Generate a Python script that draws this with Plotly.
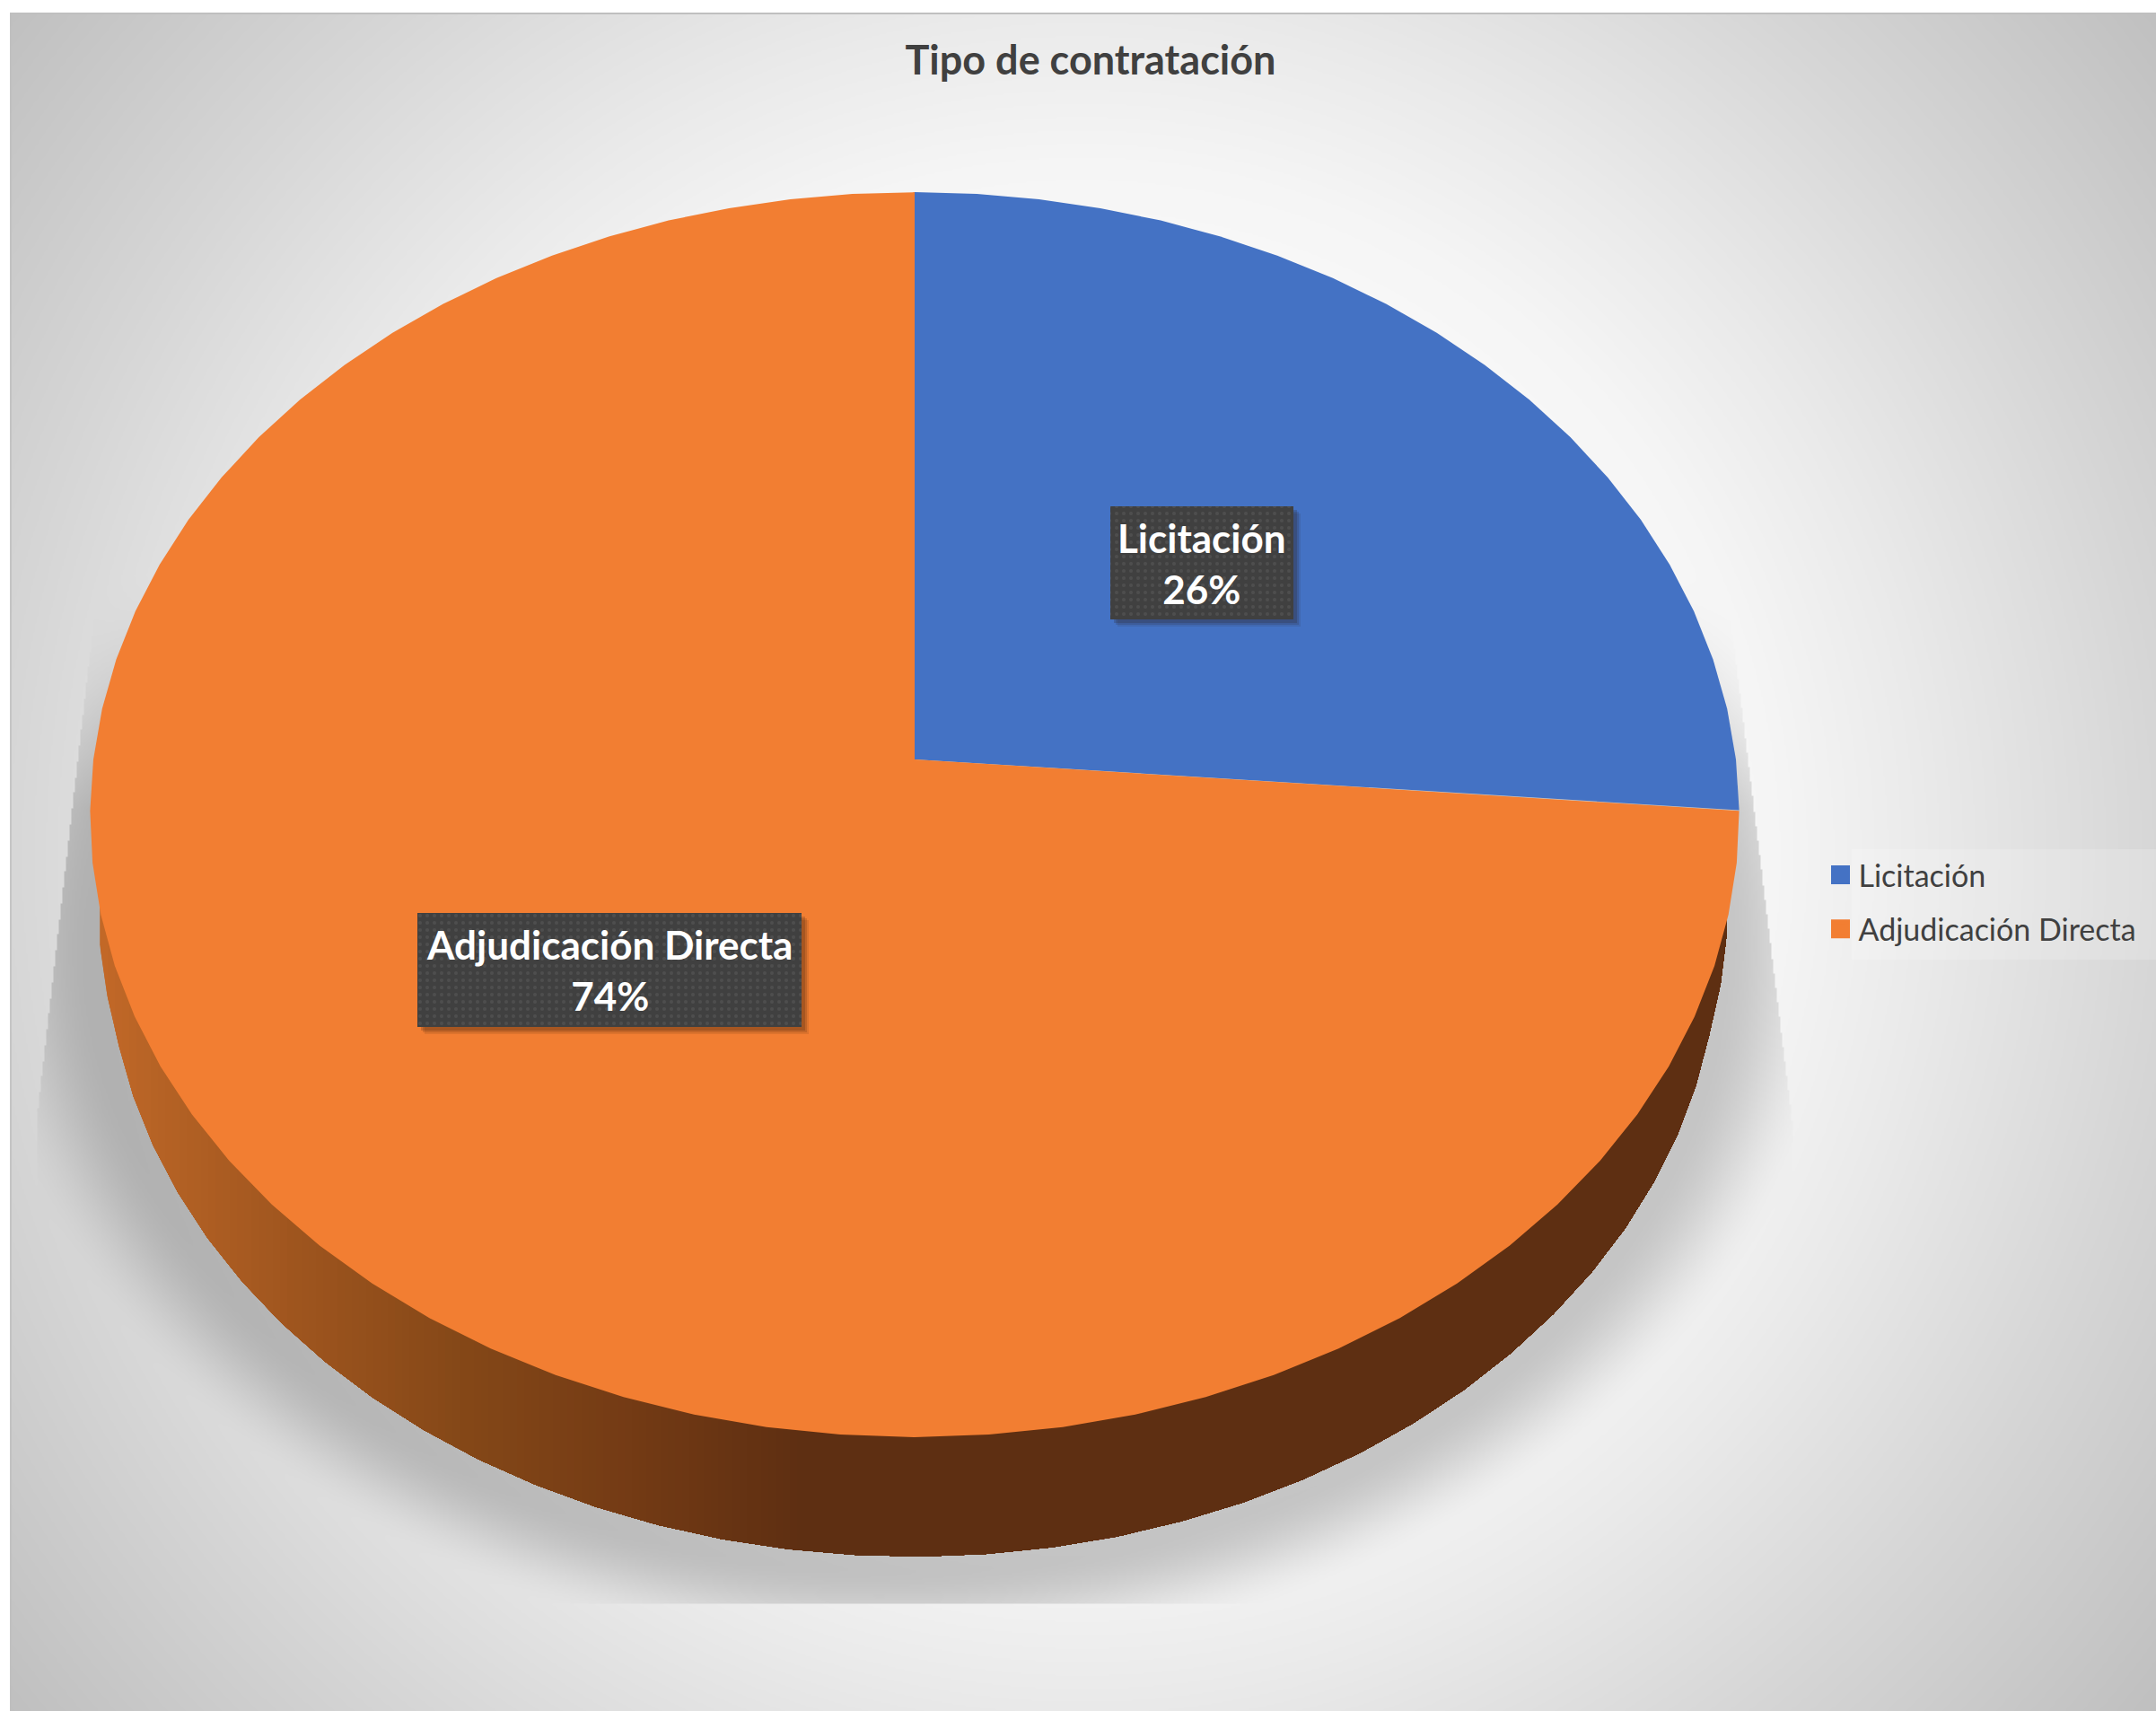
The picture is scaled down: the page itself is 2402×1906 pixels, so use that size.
import numpy as np
import plotly.graph_objects as go

# ---- data ----
categories = ["Licitación", "Adjudicación Directa"]
values = [26.3, 73.7]
colors = ["#4472C4", "#F27E32"]
title_text = "Tipo de contratación"

W, H = 2402, 1906
FONT = "Lato"
TXT = "#404040"

# perspective disc
CX, CY = 1019, 846
SX, SY, K = 915, 688, 0.0887
STEP = 360 / 76


def disc(deg):
    t = np.radians(np.asarray(deg, dtype=float))
    u, v = np.sin(t), np.cos(t)
    d = 1 + K * v
    return CX + SX * u / d, CY - SY * v / d


def arc_angles(a0, a1):
    inner = np.arange(np.ceil(a0 / STEP), np.floor(a1 / STEP) + 1) * STEP
    return np.unique(np.concatenate([[a0], inner, [a1]]))


# ---- background: radial grey + clipped soft shadow ----
xs = np.arange(12, W + 2, 2.0)
ys = np.arange(15, H + 2, 2.0)
gx, gy = np.meshgrid(xs, ys)
d = np.hypot(gx - 1205, gy - 953)
bg = np.interp(d, [0, 700, 770, 935, 1200, 1530], [252, 247, 245, 234, 214, 191])
rho = np.hypot((gx - 1012) / 975, (gy - 1046) / 755)
edge = np.clip((rho - 0.93) / 0.14, 0, 1)
alpha = 0.2 * (1 - edge * edge * (3 - 2 * edge))
alpha *= np.clip((gy - 640) / 260, 0, 1)
left = np.maximum(104 - (gy - 690) * 0.114, 42)
right = np.minimum(1928 + (gy - 690) * 0.122, 1996)
alpha[(gx < left) | (gx > right) | (gy > 1785)] = 0
bg = bg * (1 - alpha)

fig = go.Figure()
fig.add_trace(go.Heatmap(x=xs, y=ys, z=np.round(bg).astype(np.uint8), zmin=0, zmax=255,
                         colorscale=[[0, "black"], [1, "white"]], showscale=False,
                         zsmooth="best", hoverinfo="skip"))


def poly(x, y, color):
    fig.add_trace(go.Scatter(x=np.round(x, 1), y=np.round(y, 1), mode="lines", fill="toself",
                             fillcolor=color, line=dict(width=0), showlegend=False,
                             hoverinfo="skip"))


# ---- side wall: lower outline, painted left to right as a gradient ----
BCX, BCY, BA, BB = 1017, 1046, 898, 688
wall_deg = np.arange(80, 270 + STEP / 2, STEP)
wall_t = np.radians(wall_deg)
wy = BCY - BB * np.cos(wall_t)
wx = BCX + (BA + 12 * np.clip((1150 - wy) / 150, 0, 1)) * np.sin(wall_t)
grad_x = [105, 160, 319, 510, 700, 893]
grad_r = [196, 184, 160, 133, 116, 94]
grad_g = [105, 100, 86, 72, 59, 47]
grad_b = [40, 38, 31, 24, 21, 18]
left_part = wall_deg > 180
lx, ly = wx[left_part][::-1], wy[left_part][::-1]   # x rising along the lower-left arc
first = wx.min()
for x0 in np.r_[first, np.arange(112, 900, 8)]:
    keep = (wall_deg <= 180) | (wx >= x0)
    cross = np.interp(x0, lx, ly)
    # its closing edge runs behind the top face
    fx = np.r_[wx[keep], x0, x0]
    fy = np.r_[wy[keep], cross, wy[0]]
    c = "rgb(%d,%d,%d)" % (np.interp(x0, grad_x, grad_r), np.interp(x0, grad_x, grad_g),
                           np.interp(x0, grad_x, grad_b))
    poly(fx, fy, c)

# ---- top face of the pie, one polygon per category ----
total = sum(values)
start = 0.0
for name, val, col in zip(categories, values, colors):
    end = start + 360 * val / total
    px, py = disc(arc_angles(start, end))
    poly(np.r_[CX, px, CX], np.r_[CY, py, CY], col)
    start = end

# ---- data labels ----
label_boxes = [(1237, 1441, 564, 690), (465, 893, 1017, 1144)]
annos = []
for name, val, (x0, x1, y0, y1) in zip(categories, values, label_boxes):
    for off, a in ((8, 0.10), (6, 0.14), (4, 0.18)):
        poly([x0 + off, x1 + off, x1 + off, x0 + off, x0 + off],
             [y0 + off, y0 + off, y1 + off, y1 + off, y0 + off], "rgba(40,20,10,%.2f)" % a)
    fig.add_trace(go.Scatter(x=[x0, x1, x1, x0, x0], y=[y0, y0, y1, y1, y0], mode="lines", fill="toself",
                             line=dict(width=0), showlegend=False, hoverinfo="skip",
                             fillcolor="#404040",
                             fillpattern=dict(shape=".", bgcolor="#404040", fgcolor="#5C5C5C",
                                              size=8, solidity=0.2)))
    annos.append(dict(x=(x0 + x1) / 2, y=(y0 + y1) / 2, xref="x", yref="y", showarrow=False,
                      text=f"<b>{name}<br>{round(val)}%</b>",
                      font=dict(family=FONT, size=44, color="white"), align="center"))

# ---- legend entries ----
for name, col in zip(categories, colors):
    fig.add_trace(go.Scatter(x=[-500], y=[-500], mode="markers", name=name, legendgroup=name,
                             marker=dict(symbol="square", size=16, color=col, line=dict(width=5, color=col)),
                             hoverinfo="skip"))

fig.update_layout(
    width=W, height=H, margin=dict(l=0, r=0, t=0, b=0), paper_bgcolor="white", plot_bgcolor="white",
    xaxis=dict(range=[0, W], visible=False, fixedrange=True),
    yaxis=dict(range=[H, 0], visible=False, fixedrange=True),
    title=dict(text=f"<b>{title_text}</b>", x=1215 / W, xanchor="center", y=1 - 67 / H, yanchor="middle",
               font=dict(family=FONT, size=45, color=TXT)),
    legend=dict(x=2030.5 / W, xanchor="left", y=1 - 946 / H, yanchor="top", bgcolor="rgba(0,0,0,0)",
                font=dict(family=FONT, size=34, color=TXT), itemsizing="trace", tracegroupgap=13),
    annotations=annos,
    shapes=[
        dict(type="rect", xref="x", yref="y", x0=2063, x1=W, y0=946, y1=1069,
             fillcolor="rgba(255,255,255,0.18)", line=dict(width=0), layer="above"),
        dict(type="line", xref="x", yref="y", x0=12, x1=W, y0=15, y1=15, line=dict(color="#BFBFBF", width=2)),
        dict(type="line", xref="x", yref="y", x0=12, x1=12, y0=15, y1=H, line=dict(color="#BFBFBF", width=1.5)),
    ],
)
fig.write_html("out.html", config={"displayModeBar": False},
               post_script="document.body.style.margin='0';document.body.style.overflow='hidden';")
